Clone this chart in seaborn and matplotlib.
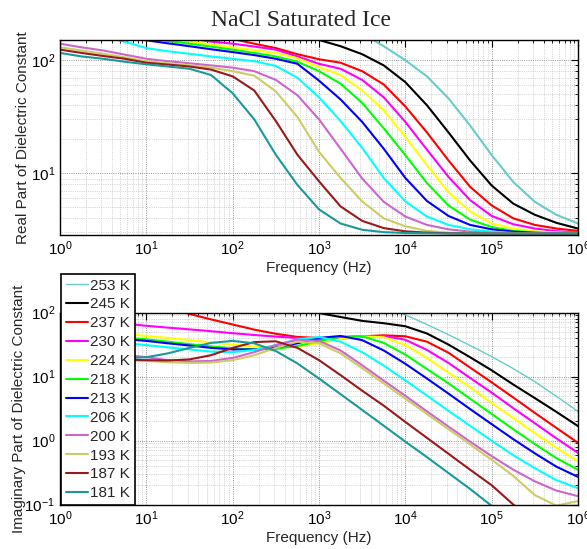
import numpy as np
import pandas as pd
import seaborn as sns
import matplotlib
matplotlib.use("Agg")
import matplotlib.pyplot as plt
from matplotlib.ticker import LogLocator, NullFormatter

nan = np.nan

# Frequency grid (Hz), quarter-decade steps from 1 Hz to 1 MHz
freq_hz = [1, 1.778, 3.162, 5.623, 10, 17.78, 31.62, 56.23, 100, 177.8, 316.2, 562.3,
           1e3, 1778, 3162, 5623, 1e4, 17783, 31623, 56234, 1e5, 177828, 316228, 562341, 1e6]

temps = ["253 K", "245 K", "237 K", "230 K", "224 K", "218 K",
         "213 K", "206 K", "200 K", "193 K", "187 K", "181 K"]

colors = ["#66CCCC", "#000000", "#FF0000", "#FF00FF", "#FFFF00", "#00FF00",
          "#0000FF", "#00FFFF", "#CC66CC", "#CCCC66", "#991A1A", "#1A9999"]

# Real part of the dielectric constant
real_253 = [nan]*14 + [172, 133, 100, 72, 46, 26.5, 14.5, 8.4, 5.6, 4.3, 3.6]
real_245 = [nan]*11 + [178, 151, 133, 113, 90, 64, 40, 23, 13, 7.8, 5.4, 4.3, 3.65, 3.25]
real_237 = [nan]*8 + [154, 140, 128, 113, 102, 95, 80, 61, 39, 23, 13, 7.6, 5.2, 4.0, 3.5, 3.25, 3.1]
real_230 = [nan]*6 + [156, 146, 140, 132, 124, 108, 93, 84, 67, 47, 28.5, 16.2, 9.3, 5.8, 4.2,
                      3.55, 3.25, 3.08, 3.0]
real_224 = [nan]*5 + [156, 146, 138, 130, 123, 116, 104, 87, 74, 54, 36, 21, 11.8, 6.8, 4.6,
                      3.6, 3.25, 3.07, 3.0, 2.96]
real_218 = [nan]*4 + [158, 148, 140, 132, 124, 116, 108, 97, 80, 62, 42, 25, 14.5, 8.2, 5.2,
                      3.9, 3.35, 3.1, 3.0, 2.96, 2.94]
real_213 = [nan]*3 + [165, 150, 141, 133, 125, 118, 111, 103, 93, 66, 45, 28.5, 16.5, 9.1, 5.7,
                      4.2, 3.5, 3.2, 3.05, 2.98, 2.94, 2.92]
real_206 = [nan]*2 + [162, 146, 128, 120, 114, 108, 103, 98, 89, 70, 47, 29, 16.8, 9.1, 5.65,
                      4.15, 3.5, 3.2, 3.05, 2.97, 2.95, 2.94, 2.93]
real_200 = [140, 130, 122, 112, 103, 98, 94, 90, 86, 80, 67, 49, 30, 16.5, 9.0, 5.6, 4.15,
            3.5, 3.2, 3.05, 2.97, 2.95, 2.94, 2.93, 2.93]
real_193 = [130, 122, 114, 106, 98, 94, 90, 86, 80, 73, 53, 31.5, 15.5, 9.1, 5.65, 4.0, 3.4,
            3.1, 2.99, 2.95, 2.94, 2.93, 2.93, 2.93, 2.93]
real_187 = [124, 116, 109, 103, 95, 91.5, 88, 82.6, 72, 54, 29, 14.6, 8.5, 5.1, 3.8, 3.28,
            3.07, 2.99, 2.95, 2.94, 2.93, 2.93, 2.93, 2.93, 2.93]
real_181 = [116, 108, 103, 97, 92, 88, 84, 74, 51, 30, 14.6, 7.9, 4.8, 3.6, 3.17, 3.02, 2.97,
            2.95, 2.94, 2.93, 2.93, 2.93, 2.93, 2.93, 2.93]

# Imaginary part of the dielectric constant
imag_253 = [nan]*15 + [125, 92, 65, 45, 30.5, 20.5, 13.3, 8.3, 4.9, 2.85]
imag_245 = [nan]*11 + [125, 98, 85, 74, 68, 61, 47, 31.5, 20, 12.5, 7.5, 4.6, 2.8, 1.68]
imag_237 = [nan]*5 + [118, 95, 78, 65, 54, 46.5, 41.5, 40, 41, 42.5, 44, 42.5, 35, 23.5, 13.8,
                      8.1, 4.7, 2.7, 1.57, 0.92]
imag_230 = [88, 80, 73, 67, 62, 58, 54.5, 51, 47.5, 44.5, 42, 40, 38.5, 39, 41.5, 43, 37.5, 26,
            16.3, 9.5, 5.6, 3.2, 1.86, 1.08, 0.64]
imag_224 = [56, 53, 50, 46.5, 43, 40, 37, 34, 31.5, 29.5, 28.5, 29.5, 33, 38.5, 42.5, 41, 31,
            19.5, 11.5, 6.8, 3.85, 2.25, 1.3, 0.77, 0.47]
imag_218 = [48, 45.5, 43, 40.5, 38, 35, 32, 29.5, 27.5, 26.5, 27, 30, 35.5, 42, 42.5, 33.5, 22,
            13.1, 7.8, 4.5, 2.6, 1.5, 0.88, 0.53, 0.35]
imag_213 = [45, 43, 41, 38.5, 36, 33, 30.5, 28, 26.5, 26.5, 28.5, 33, 40, 43, 37, 25.5, 15.8,
            9.3, 5.4, 3.1, 1.8, 1.05, 0.63, 0.39, 0.27]
imag_206 = [38, 36.5, 35, 33, 31, 28.5, 26.5, 24.5, 24, 26, 31, 38, 41.5, 35, 24, 14.8, 8.7,
            5.05, 2.9, 1.7, 0.99, 0.59, 0.37, 0.24, 0.18]
imag_200 = [23, 22.5, 22, 21.8, 20, 18, 17.2, 17.5, 19.5, 24, 31, 37.5, 36, 25.5, 15, 8.6, 5.0,
            2.85, 1.65, 0.96, 0.57, 0.35, 0.23, 0.165, 0.135]
imag_193 = [19, 18.7, 18.4, 18.2, 17.5, 16.7, 16.3, 16.5, 18, 21.5, 28, 35, 33, 23, 13.5, 7.8,
            4.5, 2.6, 1.5, 0.87, 0.5, 0.28, 0.14, 0.096, 0.113]
imag_187 = [19, 18.6, 18.3, 18.2, 18, 17.8, 18.5, 21.5, 28, 34.5, 35.5, 28, 18, 10.5, 6.0, 3.5,
            1.95, 1.1, 0.62, 0.35, 0.2, 0.1, 0.055, nan, nan]
imag_181 = [20, 19.5, 19.3, 19.3, 20, 23, 28, 33.5, 36, 33, 25, 16, 9.3, 5.3, 3.0, 1.7, 0.96,
            0.55, 0.31, 0.175, 0.095, 0.057, nan, nan, nan]

real_parts = [real_253, real_245, real_237, real_230, real_224, real_218,
              real_213, real_206, real_200, real_193, real_187, real_181]
imag_parts = [imag_253, imag_245, imag_237, imag_230, imag_224, imag_218,
              imag_213, imag_206, imag_200, imag_193, imag_187, imag_181]

sns.set_theme(style="white")
plt.rcParams["font.family"] = ["Liberation Sans", "DejaVu Sans"]
plt.rcParams["mathtext.default"] = "regular"

W, H = 587, 549
fig = plt.figure(figsize=(W / 100, H / 100), dpi=100)
ax1 = fig.add_axes([60 / W, 1 - 235 / H, 518 / W, (235 - 40.3) / H])
ax2 = fig.add_axes([60 / W, 1 - 504.5 / H, 518 / W, (504.5 - 312.5) / H])

for i, (lab, col) in enumerate(zip(temps, colors)):
    df_r = pd.DataFrame({"freq": freq_hz, "val": real_parts[i]})
    sns.lineplot(data=df_r, x="freq", y="val", color=col, lw=1.5,
                 estimator=None, legend=False, ax=ax1)
    df_i = pd.DataFrame({"freq": freq_hz, "val": imag_parts[i]})
    sns.lineplot(data=df_i, x="freq", y="val", color=col,
                 lw=1.0 if lab == "253 K" else 1.5,
                 estimator=None, legend=False, ax=ax2, label=lab)

for ax in (ax1, ax2):
    ax.set_xscale("log")
    ax.set_yscale("log")
    ax.set_xlim(1, 1e6)
    ax.xaxis.set_major_locator(LogLocator(base=10, numticks=10))
    ax.xaxis.set_minor_locator(LogLocator(base=10, subs=range(2, 10), numticks=20))
    ax.yaxis.set_major_locator(LogLocator(base=10, numticks=10))
    ax.yaxis.set_minor_locator(LogLocator(base=10, subs=range(2, 10), numticks=20))
    ax.xaxis.set_minor_formatter(NullFormatter())
    ax.yaxis.set_minor_formatter(NullFormatter())
    ax.grid(True, which="major", ls=":", color="0.45", lw=0.6)
    ax.grid(True, which="minor", ls=":", color="0.7", lw=0.5)
    ax.tick_params(which="both", direction="in", top=True, right=True,
                   colors="black", labelsize=11)
    ax.tick_params(which="major", length=5, width=0.8)
    ax.tick_params(which="minor", length=2.5, width=0.6)
    for s in ax.spines.values():
        s.set_color("black")
        s.set_linewidth(1.0)
    ax.set_xlabel("Frequency (Hz)", fontsize=11)

ax1.set_ylim(2.85, 150)
ax2.set_ylim(0.1, 100)
ax1.set_ylabel("Real Part of Dielectric Constant", fontsize=11)
ax2.set_ylabel("Imaginary Part of Dielectric Constant", fontsize=11)
ax1.xaxis.set_label_coords(0.5, -0.132)
ax2.xaxis.set_label_coords(0.5, -0.136)
ax1.yaxis.set_label_coords(-0.058, 0.5)
ax2.yaxis.set_label_coords(-0.066, 0.5)

fig.text(301 / W, 1 - 20.5 / H, "NaCl Saturated Ice", ha="center", va="center",
         fontsize=17, family=["Liberation Serif", "DejaVu Serif"])

handles = ax2.get_lines()[:len(temps)]
leg = ax2.legend(handles, temps, loc="lower left", bbox_to_anchor=(0.002, -0.002),
                 borderaxespad=0, fontsize=11, handlelength=1.45, handletextpad=0.15,
                 labelspacing=0.32, borderpad=0.3, frameon=True, fancybox=False,
                 framealpha=1, edgecolor="black")
leg.get_frame().set_linewidth(1.2)

fig.savefig("out.png", dpi=100)
